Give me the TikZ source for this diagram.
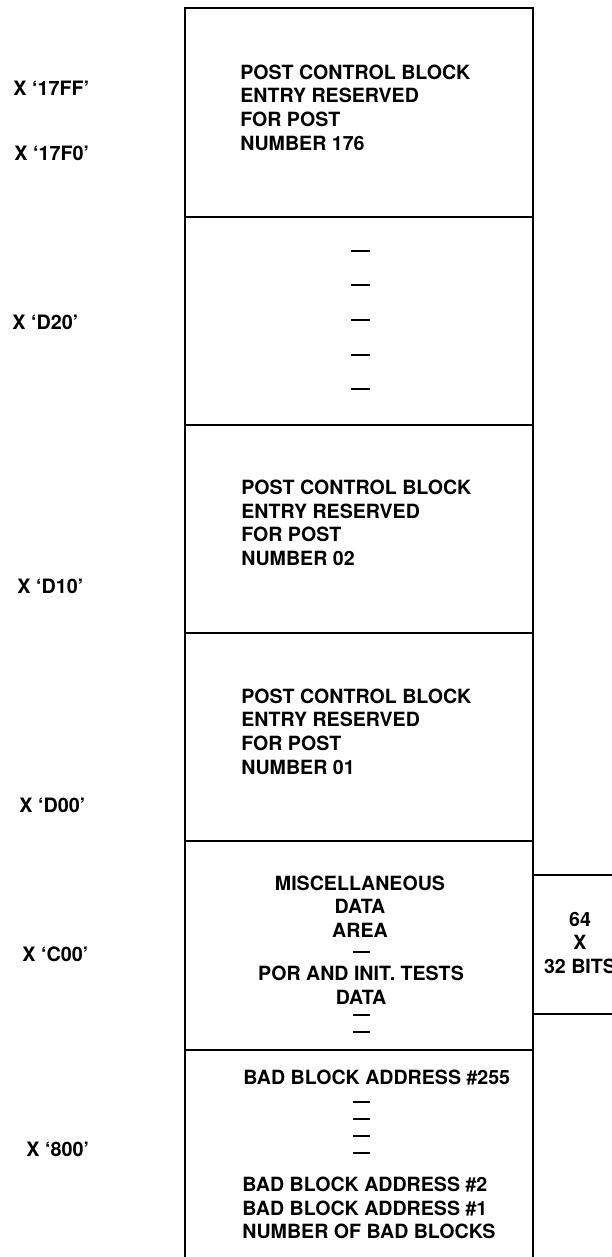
\documentclass[tikz,border=0pt]{standalone}
\usepackage{fontspec}
\setmainfont{TeX Gyre Heros}
\begin{document}
\begin{tikzpicture}[x=0.5pt,y=-0.5pt,
  frame/.style={line width=1.4pt},
  txt/.style={font=\fontsize{9.8}{11.85}\selectfont\bfseries, inner sep=0pt, align=left, anchor=west},
  ctxt/.style={font=\fontsize{9.8}{11.85}\selectfont\bfseries, inner sep=0pt, align=center},
  addr/.style={font=\fontsize{9.9}{12}\selectfont\bfseries, inner sep=0pt, anchor=west},
  dashmark/.style={line width=1.2pt}]
\useasboundingbox (0,0) rectangle (611,1257);

% main column
\draw[frame] (185,1275) -- (185,8) -- (533,8) -- (533,1275);
\foreach \y in {217,425,633,841,1050}
  \draw[frame] (185,\y) -- (533,\y);
% side box
\draw[frame] (533,875) -- (625,875);
\draw[frame] (533,1014) -- (625,1014);

% block texts
\node[txt] (b1) at (240,107.5) {POST CONTROL BLOCK\\ENTRY RESERVED\\FOR POST\\NUMBER 176};
\foreach \y in {251,285,320,355,389}
  \draw[dashmark] (351,\y) -- (370,\y);
\node[txt] (b3) at (241,523) {POST CONTROL BLOCK\\ENTRY RESERVED\\FOR POST\\NUMBER 02};
\node[txt] (b4) at (241,731.5) {POST CONTROL BLOCK\\ENTRY RESERVED\\FOR POST\\NUMBER 01};

\node[ctxt] (b5a) at (360,906.5) {MISCELLANEOUS\\DATA\\AREA};
\draw[dashmark] (353,952) -- (370,952);
\node[ctxt] (b5b) at (361,985) {POR AND INIT. TESTS\\DATA};
\foreach \y in {1015,1032}
  \draw[dashmark] (353,\y) -- (370,\y);

\node[txt] (b6a) at (243,1078) {BAD BLOCK ADDRESS \#255};
\foreach \y in {1102,1119,1136,1153}
  \draw[dashmark] (353,\y) -- (370,\y);
\node[txt] (b6b) at (242,1208) {BAD BLOCK ADDRESS \#2\\BAD BLOCK ADDRESS \#1\\NUMBER OF BAD BLOCKS};

\node[ctxt] (side) at (580,943) {64\\X\\32 BITS};

% addresses
\node[addr] (a1) at (13,88) {X ‘17FF’};
\node[addr] (a2) at (14,153) {X ‘17F0’};
\node[addr] (a3) at (12,322) {X ‘D20’};
\node[addr] (a4) at (17,586) {X ‘D10’};
\node[addr] (a5) at (19,805) {X ‘D00’};
\node[addr] (a6) at (22,954) {X ‘C00’};
\node[addr] (a7) at (26,1149) {X ‘800’};
\end{tikzpicture}
\end{document}
